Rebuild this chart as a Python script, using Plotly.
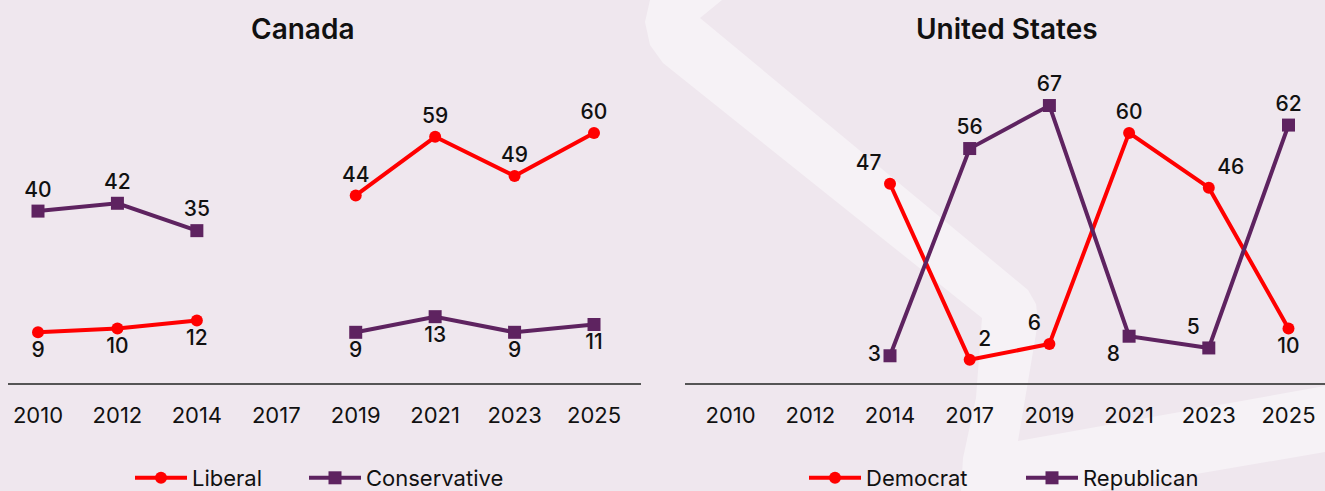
import plotly.graph_objects as go

W, H = 1325, 491

years = ["2010", "2012", "2014", "2017", "2019", "2021", "2023", "2025"]

ca_liberal = [9, 10, 12, None, 44, 59, 49, 60]
ca_conservative = [40, 42, 35, None, 9, 13, 9, 11]
ca_liberal_pos = ["bottom center"] * 3 + ["top center"] * 5
ca_conservative_pos = ["top center"] * 3 + ["bottom center"] * 5

us_democrat = [None, None, 47, 2, 6, 60, 46, 10]
us_republican = [None, None, 3, 56, 67, 8, 5, 62]
us_democrat_pos = ["top center", "top center", "top left", "top right", "top left",
                   "top center", "top right", "bottom center"]
us_republican_pos = ["top center", "top center", "middle left", "top center", "top center",
                     "bottom left", "top left", "top center"]

RED = "#FF0000"
PURPLE = "#5E2360"
BG = "#EFE7EE"
BAND = "#F6F2F6"
FONT = "Inter"


def fmt(vals):
    return ["" if v is None else str(v) for v in vals]


def px(x):
    return x / W


def py(y):
    return 1 - y / H


fig = go.Figure()


def add_series(name, vals, pos, color, symbol, xa, ya, legend):
    fig.add_trace(go.Scatter(
        x=years, y=vals, name=name, mode="lines+markers+text",
        text=fmt(vals), textposition=pos,
        textfont=dict(family=FONT, size=21, color="#111111", weight=500),
        line=dict(color=color, width=4),
        marker=dict(color=color, size=13 if symbol == "square" else 12, symbol=symbol),
        xaxis=xa, yaxis=ya, legend=legend, cliponaxis=False,
    ))


add_series("Liberal", ca_liberal, ca_liberal_pos, RED, "circle", "x", "y", "legend")
add_series("Conservative", ca_conservative, ca_conservative_pos, PURPLE, "square", "x", "y", "legend2")
add_series("Democrat", us_democrat, us_democrat_pos, RED, "circle", "x2", "y2", "legend3")
add_series("Republican", us_republican, us_republican_pos, PURPLE, "square", "x2", "y2", "legend4")

# pixel scale
k = 3.91
zero_px = 367.5
axis_px = 383
top_px = 60
y_range = [-(axis_px - zero_px) / k, (zero_px - top_px) / k]
y_domain = [py(axis_px), py(top_px)]

sp_ca = 79.43
ca_l, ca_r, ca_first = 8, 641, 38
ca_r0 = -(ca_first - ca_l) / sp_ca
ca_r1 = ca_r0 + (ca_r - ca_l) / sp_ca

sp_us = 79.7
us_l, us_r, us_first = 685, 1325, 730.6
us_r0 = -(us_first - us_l) / sp_us
us_r1 = us_r0 + (us_r - us_l) / sp_us

xcommon = dict(type="category", showline=True, linecolor="#555555", linewidth=1.5,
               showgrid=False, zeroline=False, ticks="outside", ticklen=12,
               tickcolor="rgba(0,0,0,0)",
               tickfont=dict(family=FONT, size=22, color="#111111"), fixedrange=True)
ycommon = dict(visible=False, showgrid=False, zeroline=False, range=y_range, domain=y_domain,
               fixedrange=True)

legend_font = dict(family=FONT, size=22, color="#111111")


def leg(x0):
    return dict(orientation="h", x=px(x0), xanchor="left", y=py(478), yanchor="middle",
                font=legend_font, bgcolor="rgba(0,0,0,0)", itemwidth=52)


fig.update_layout(
    width=W, height=H,
    margin=dict(l=0, r=0, t=0, b=0, autoexpand=False),
    paper_bgcolor=BG, plot_bgcolor="rgba(0,0,0,0)",
    xaxis=dict(domain=[px(ca_l), px(ca_r)], range=[ca_r0, ca_r1], anchor="y", **xcommon),
    yaxis=dict(anchor="x", **ycommon),
    xaxis2=dict(domain=[px(us_l), px(us_r)], range=[us_r0, us_r1], anchor="y2", **xcommon),
    yaxis2=dict(anchor="x2", **ycommon),
    legend=leg(130),
    legend2=leg(304),
    legend3=leg(804),
    legend4=leg(1021),
    showlegend=True,
)

# titles
for txt, cx in [("Canada", 302), ("United States", 1007)]:
    fig.add_annotation(text=txt, x=px(cx), y=py(29), xref="paper", yref="paper",
                       showarrow=False, xanchor="center", yanchor="middle",
                       font=dict(family=FONT, size=28, color="#111111", weight=600))

# decorative background band
band_pts = [(722, 0), (700, 18), (1028, 290), (1036, 304), (1038, 322), (1018, 441),
            (1325, 386), (1325, 452), (1097, 491), (961, 491), (963, 458), (976, 398),
            (982, 318), (663, 63), (650, 45), (645, 22), (650, 0)]
path = "M " + " L ".join(f"{px(x):.5f},{py(y):.5f}" for x, y in band_pts) + " Z"
fig.add_shape(type="path", path=path, xref="paper", yref="paper",
              fillcolor=BAND, line=dict(width=0), layer="below")

fig.write_html(
    "out.html",
    config={"displayModeBar": False},
    post_script="document.body.style.margin='0';document.body.style.overflow='hidden';",
)
